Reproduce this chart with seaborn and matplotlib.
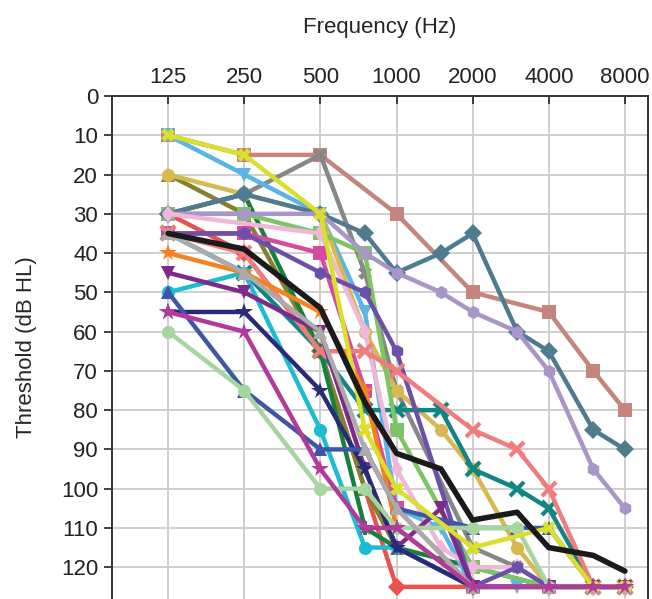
import matplotlib
matplotlib.use("Agg")
import matplotlib.pyplot as plt
import numpy as np
import pandas as pd
import seaborn as sns

sns.set_theme(style="white")
plt.rcParams["font.family"] = ["Liberation Sans", "DejaVu Sans"]

# audiometric frequencies (Hz) and per-subject thresholds (dB HL), None = not tested
FREQS = [125, 250, 500, 750, 1000, 1500, 2000, 3000, 4000, 6000, 8000]
TICK_FREQS = [125, 250, 500, 1000, 2000, 4000, 8000]

brown = [10, 15, 15, None, 30, None, 50, None, 55, 70, 80]
steel = [30, 25, 30, 35, 45, 40, 35, 60, 65, 85, 90]
lavender = [30, 30, 30, 40, 45, 50, 55, 60, 70, 95, 105]
gray = [30, 25, 15, 45, 75, None, 115, 120, 125, 125, 125]
lightblue = [10, 20, 30, 55, 105, 110, 125, 125, 125, 125, 125]
gold = [20, 25, 30, 60, 75, 85, 95, 115, 125, 125, 125]
olive = [20, 30, 65, 100, 115, None, 125, None, 125, 125, 125]
darkgreen = [30, 25, 65, 110, 115, None, 120, None, 125, 125, 125]
teal = [35, 45, 65, 80, 80, 80, 95, 100, 105, 125, 125]
lightgreen = [30, 30, 35, 40, 85, None, 120, None, 125, 125, 125]
lightpink = [30, None, 35, 60, 95, 115, 120, 120, 125, 125, 125]
magenta = [35, 35, 40, 75, 105, None, 125, None, 125, 125, 125]
purple = [35, 35, 45, 50, 65, None, 125, 120, 125, 125, 125]
salmon = [35, 40, 65, 65, 70, None, 85, 90, 100, 125, 125]
red = [30, 40, 65, None, 125, None, 125, None, 125, 125, 125]
cyan = [50, 45, 85, 115, 115, None, 125, None, 125, 125, 125]
orange = [40, 45, 55, 75, 110, None, 125, None, 125, 125, 125]
darkpurple = [45, 50, 60, 95, 115, 105, 125, None, 125, 125, 125]
navy = [55, 55, 75, 95, 115, None, 125, None, 125, 125, 125]
royalblue = [50, 75, 90, 90, 105, None, 110, 110, 110, 125, 125]
palegreen = [60, 75, 100, 100, 110, None, 110, 110, 125, 125, 125]
silver = [35, 45, 60, 90, 105, None, 125, None, 125, 125, 125]
yellow = [10, 15, 30, 85, 100, None, 115, None, 110, 125, 125]
violet = [55, 60, 95, 110, 110, None, 125, None, 125, 125, 125]
mean = [35, 39, 54, 78, 91, 95, 108, 106, 115, 117, 121]

# (values, colour, marker) in drawing order
subjects = [
    (red, "#e8524f", "D"),
    (olive, "#84802e", "^"),
    (darkgreen, "#17803f", "P"),
    (brown, "#c3857c", "s"),
    (gray, "#878787", "X"),
    (lightblue, "#58b5e6", "v"),
    (gold, "#d8b850", "o"),
    (teal, "#108583", "x"),
    (lightgreen, "#7dc466", "s"),
    (steel, "#4e7b8f", "D"),
    (lavender, "#a996c8", "h"),
    (lightpink, "#f0b8d8", "d"),
    (magenta, "#d54b9f", "s"),
    (purple, "#6b4fa8", "h"),
    (salmon, "#f27c7c", "x"),
    (cyan, "#1cbcd2", "o"),
    (orange, "#f5821f", "*"),
    (darkpurple, "#7d2b8b", "v"),
    (navy, "#2a2a78", "*"),
    (royalblue, "#3e56a8", "^"),
    (palegreen, "#a6d6a0", "o"),
    (silver, "#ababab", "^"),
    (yellow, "#d9df2a", "X"),
]

fig = plt.figure(figsize=(6.52, 5.99), dpi=100)
ax = fig.add_axes([0.1718, 0.0, 0.822, 0.8397])

for vals, col, mk in subjects:
    d = pd.DataFrame({"f": FREQS, "db": vals}).dropna()
    ms = 13 if mk == "*" else 9.5
    mew = 3 if mk == "x" else 0
    sns.lineplot(data=d, x="f", y="db", color=col, marker=mk, markersize=ms,
                 markeredgewidth=mew, markeredgecolor=col, linewidth=3.2,
                 estimator=None, sort=False, ax=ax)

d = pd.DataFrame({"f": FREQS, "db": mean})
sns.lineplot(data=d, x="f", y="db", color="#1a1a1a", linewidth=4.0,
             estimator=None, sort=False, ax=ax)
d = pd.DataFrame({"f": FREQS, "db": violet}).dropna()
sns.lineplot(data=d, x="f", y="db", color="#b13a9b", marker="*", markersize=13,
             markeredgewidth=0, linewidth=3.2, estimator=None, sort=False, ax=ax)

ax.set_xscale("log", base=2)
ax.set_xlim(75.0, 9870)
ax.set_ylim(128.1, 0)
ax.set_xticks(TICK_FREQS)
ax.set_xticklabels([str(f) for f in TICK_FREQS])
ax.xaxis.set_minor_locator(matplotlib.ticker.NullLocator())
ax.set_yticks(np.arange(0, 121, 10))
ax.xaxis.tick_top()
ax.xaxis.set_label_position("top")
ax.set_xlabel("Frequency (Hz)", fontsize=16, labelpad=24)
ax.set_ylabel("Threshold (dB HL)", fontsize=16, labelpad=17)
ax.tick_params(axis="x", direction="in", length=6, width=1.2, labelsize=16,
               pad=6, colors="#222222", labelcolor="#222222", top=True, bottom=False)
ax.tick_params(axis="y", direction="out", length=6, width=1.2, labelsize=16,
               pad=4, colors="#222222", labelcolor="#222222", left=True)
ax.grid(True, color="#cccccc", linewidth=1.3)
ax.set_axisbelow(True)
for side in ["left", "top", "right"]:
    ax.spines[side].set_color("#333333")
    ax.spines[side].set_linewidth(1.4)
ax.spines["bottom"].set_visible(False)

fig.savefig("out.png", dpi=100)
